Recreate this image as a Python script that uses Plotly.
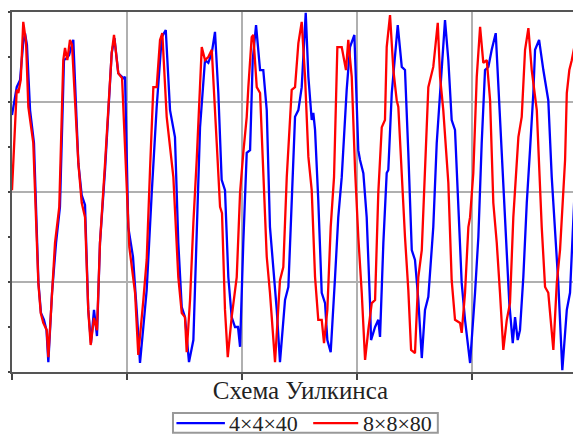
import plotly.graph_objects as go

# Series 1: 4×4×40 (blue)
x_blue = [0, 0.041, 0.07, 0.096, 0.113, 0.13, 0.157, 0.191, 0.23, 0.252, 0.278, 0.3, 0.316, 0.348, 0.383, 0.417,
          0.452, 0.478, 0.496, 0.533, 0.577, 0.606, 0.635, 0.663, 0.687, 0.713, 0.739, 0.765, 0.809, 0.837, 0.867,
          0.891, 0.924, 0.968, 0.983, 1.011, 1.052, 1.084, 1.113, 1.142, 1.171, 1.215, 1.258, 1.302, 1.337, 1.374,
          1.417, 1.446, 1.476, 1.504, 1.539, 1.577, 1.606, 1.635, 1.678, 1.707, 1.737, 1.765, 1.794, 1.823, 1.852,
          1.881, 1.91, 1.939, 1.965, 1.983, 2.011, 2.041, 2.07, 2.093, 2.122, 2.157, 2.185, 2.215, 2.243, 2.272,
          2.302, 2.33, 2.374, 2.403, 2.432, 2.461, 2.49, 2.519, 2.554, 2.577, 2.606, 2.62, 2.635, 2.663, 2.693,
          2.722, 2.742, 2.771, 2.809, 2.837, 2.867, 2.91, 2.939, 2.977, 3.011, 3.026, 3.055, 3.084, 3.113, 3.122,
          3.157, 3.185, 3.2, 3.229, 3.258, 3.272, 3.302, 3.354, 3.389, 3.417, 3.446, 3.476, 3.504, 3.533, 3.563,
          3.591, 3.62, 3.663, 3.693, 3.722, 3.765, 3.794, 3.823, 3.852, 3.881, 3.91, 3.939, 3.983, 4.026, 4.055,
          4.084, 4.113, 4.142, 4.171, 4.206, 4.243, 4.272, 4.302, 4.324, 4.354, 4.374, 4.397, 4.417, 4.446, 4.476,
          4.504, 4.533, 4.548, 4.583, 4.62, 4.663, 4.693, 4.722, 4.75, 4.785, 4.824, 4.852, 4.881, 4.911, 4.948, 4.983]
y_blue = [5.71, 6.33, 6.49, 7.27, 7.53, 7.27, 5.82, 5.09, 1.98, 1.31, 1.16, 0.93, 0.22, 1.76, 2.87, 3.67,
          6.93, 6.98, 7.04, 7.38, 4.64, 3.93, 3.71, 1.38, 0.64, 1.38, 0.8, 2.87, 4.49, 5.71, 7.09,
          7.42, 6.64, 6.53, 6.56, 3.22, 2.56, 1.38, 0.2, 1.0, 1.82, 3.98, 5.89, 7.44, 7.6, 5.82,
          5.22, 2.87, 1.44, 1.22, 0.22, 0.71, 2.87, 5.44, 6.93, 6.87, 7.09, 7.56, 6.2, 4.27, 4.04,
          2.11, 1.22, 1.0, 1.0, 0.56, 2.87, 4.87, 4.93, 6.93, 7.71, 6.71, 6.71, 5.82, 3.22, 2.33,
          1.38, 0.22, 1.6, 1.89, 3.98, 5.67, 5.82, 6.33, 7.98, 6.56, 5.6, 5.76, 5.38, 3.82, 1.76,
          1.53, 0.71, 0.44, 2.11, 3.44, 4.33, 6.27, 7.22, 7.49, 4.93, 4.71, 4.42, 3.44, 1.53, 0.71,
          1.0, 1.16, 0.78, 2.87, 4.42, 4.49, 6.2, 7.71, 6.78, 6.71, 4.87, 2.71, 2.49, 1.6, 0.31,
          1.38, 1.67, 3.22, 5.09, 6.2, 7.82, 6.93, 5.6, 5.38, 3.6, 1.98, 1.16, 0.2, 1.76, 3.0,
          5.09, 6.71, 6.78, 7.16, 7.53, 5.67, 4.33, 2.87, 1.53, 0.64, 1.22, 0.71, 0.93, 2.11, 3.76,
          4.93, 6.2, 7.16, 7.38, 6.71, 6.04, 4.33, 3.0, 1.98, 0.04, 1.38, 1.76, 3.6, 5.09, 5.98, 6.27]

# Series 2: 8×8×80 (red)
x_red = [0, 0.041, 0.055, 0.076, 0.098, 0.122, 0.142, 0.185, 0.229, 0.25, 0.272, 0.302, 0.316, 0.345, 0.374, 0.411,
         0.446, 0.461, 0.481, 0.504, 0.522, 0.577, 0.606, 0.635, 0.663, 0.684, 0.713, 0.739, 0.765, 0.809, 0.837,
         0.867, 0.887, 0.924, 0.957, 1.02, 1.07, 1.098, 1.142, 1.171, 1.2, 1.229, 1.258, 1.287, 1.307, 1.345,
         1.403, 1.446, 1.476, 1.504, 1.519, 1.548, 1.577, 1.606, 1.65, 1.678, 1.707, 1.737, 1.78, 1.809, 1.826,
         1.852, 1.876, 1.91, 1.954, 1.983, 2.011, 2.041, 2.055, 2.084, 2.098, 2.128, 2.157, 2.185, 2.215, 2.243,
         2.287, 2.33, 2.359, 2.389, 2.432, 2.461, 2.49, 2.519, 2.548, 2.577, 2.606, 2.635, 2.663, 2.693, 2.713,
         2.742, 2.771, 2.8, 2.829, 2.867, 2.904, 2.924, 2.954, 2.983, 3.011, 3.041, 3.07, 3.098, 3.128, 3.157,
         3.185, 3.215, 3.243, 3.258, 3.287, 3.316, 3.345, 3.359, 3.389, 3.417, 3.446, 3.47, 3.504, 3.533, 3.563,
         3.591, 3.62, 3.663, 3.702, 3.722, 3.75, 3.794, 3.823, 3.852, 3.896, 3.91, 3.939, 3.968, 3.983, 4.011,
         4.041, 4.07, 4.098, 4.128, 4.157, 4.185, 4.215, 4.243, 4.272, 4.302, 4.33, 4.359, 4.403, 4.432, 4.461,
         4.49, 4.519, 4.563, 4.606, 4.635, 4.663, 4.707, 4.737, 4.765, 4.809, 4.824, 4.846, 4.867, 4.896, 4.924,
         4.948, 4.983]
y_red = [4.04, 6.27, 6.2, 6.49, 7.78, 7.33, 5.89, 5.09, 1.98, 1.31, 1.09, 0.93, 0.33, 1.76, 2.87, 3.67,
         6.93, 7.2, 6.93, 7.38, 7.27, 4.64, 3.76, 3.44, 1.38, 0.6, 1.2, 0.93, 2.87, 4.64, 5.82,
         7.09, 7.49, 6.64, 6.53, 2.78, 1.76, 0.38, 1.6, 2.49, 4.49, 6.33, 6.33, 7.38, 7.53, 5.67,
         4.33, 2.11, 1.31, 1.22, 0.44, 1.6, 3.31, 4.71, 7.22, 6.93, 7.0, 7.16, 5.09, 3.67, 3.53,
         1.38, 0.33, 1.22, 2.11, 3.98, 4.87, 5.67, 6.33, 7.44, 7.49, 6.33, 6.2, 4.33, 2.56, 1.76,
         0.22, 2.04, 2.33, 4.33, 6.27, 6.33, 7.31, 7.78, 6.56, 4.78, 4.04, 2.11, 1.16, 1.16, 0.64,
         1.38, 3.22, 4.33, 7.22, 7.22, 6.71, 7.38, 6.56, 4.49, 3.0, 1.76, 0.27, 0.93, 1.53, 1.6,
         3.98, 5.44, 5.6, 7.22, 7.93, 6.71, 6.04, 5.89, 4.33, 3.0, 1.82, 0.49, 0.42, 2.11, 2.71,
         4.49, 6.33, 6.78, 7.76, 6.56, 5.82, 4.2, 2.04, 1.16, 1.09, 0.87, 1.76, 3.22, 3.44, 4.42,
         6.56, 7.67, 6.87, 6.93, 6.04, 3.76, 2.87, 1.76, 0.49, 1.16, 1.53, 3.44, 5.22, 5.67, 7.16,
         7.64, 6.71, 5.82, 3.22, 1.89, 1.76, 0.49, 1.98, 2.71, 4.71, 6.2, 6.71, 6.93, 7.31, 6.56,
         5.82, 4.93]

series_names = ["4×4×40", "8×8×80"]
series_colors = ["#0000ff", "#ff0000"]
x_title = "Схема Уилкинса"

serif = "Liberation Serif"

fig = go.Figure()
fig.add_trace(go.Scatter(x=x_blue, y=y_blue, mode="lines", name=series_names[0], showlegend=False,
                         line=dict(color=series_colors[0], width=2.3)))
fig.add_trace(go.Scatter(x=x_red, y=y_red, mode="lines", name=series_names[1], showlegend=False,
                         line=dict(color=series_colors[1], width=2.3)))

# Legend drawn as a framed row below the axis title (paper coordinates)
leg_y = -0.142
shapes = [dict(type="rect", xref="paper", yref="paper", x0=0.279, x1=0.738, y0=-0.169, y1=-0.114,
               line=dict(color="#999999", width=2), fillcolor="white", layer="above")]
annotations = []
for name, color, lx0, lx1 in [(series_names[0], series_colors[0], 0.285, 0.369),
                              (series_names[1], series_colors[1], 0.522, 0.600)]:
    shapes.append(dict(type="line", xref="paper", yref="paper", x0=lx0, x1=lx1, y0=leg_y, y1=leg_y,
                       line=dict(color=color, width=2.3), layer="above"))
    annotations.append(dict(text=name, xref="paper", yref="paper", x=lx1 + 0.004, y=leg_y,
                            xanchor="left", yanchor="middle", showarrow=False,
                            font=dict(family=serif, size=22, color="#222222")))

# the page body adds an 8px offset, so margins are reduced accordingly
fig.update_layout(
    width=581, height=437,
    margin=dict(l=4, r=0, t=4, b=73, autoexpand=False),
    paper_bgcolor="white", plot_bgcolor="white",
    showlegend=False,
    shapes=shapes, annotations=annotations,
    xaxis=dict(range=[0, 5.017], dtick=1, tick0=0, showticklabels=False, automargin=False,
               ticks="outside", ticklen=6, tickwidth=2, tickcolor="#444444",
               showgrid=True, gridcolor="#b0b0b0", gridwidth=1.5, zeroline=False,
               showline=True, linecolor="#555555", linewidth=2, mirror=True,
               title=dict(text=x_title, font=dict(family=serif, size=25, color="#222222"), standoff=2)),
    yaxis=dict(range=[0, 8], dtick=2, tick0=0, showticklabels=False, automargin=False,
               ticks="outside", ticklen=6, tickwidth=2, tickcolor="#444444",
               showgrid=True, gridcolor="#b0b0b0", gridwidth=1.5, zeroline=False,
               showline=True, linecolor="#555555", linewidth=2,
               minor=dict(dtick=1, tick0=0, ticks="outside", ticklen=6, tickwidth=2,
                          tickcolor="#444444", showgrid=False)),
)

fig.write_html("out.html")
